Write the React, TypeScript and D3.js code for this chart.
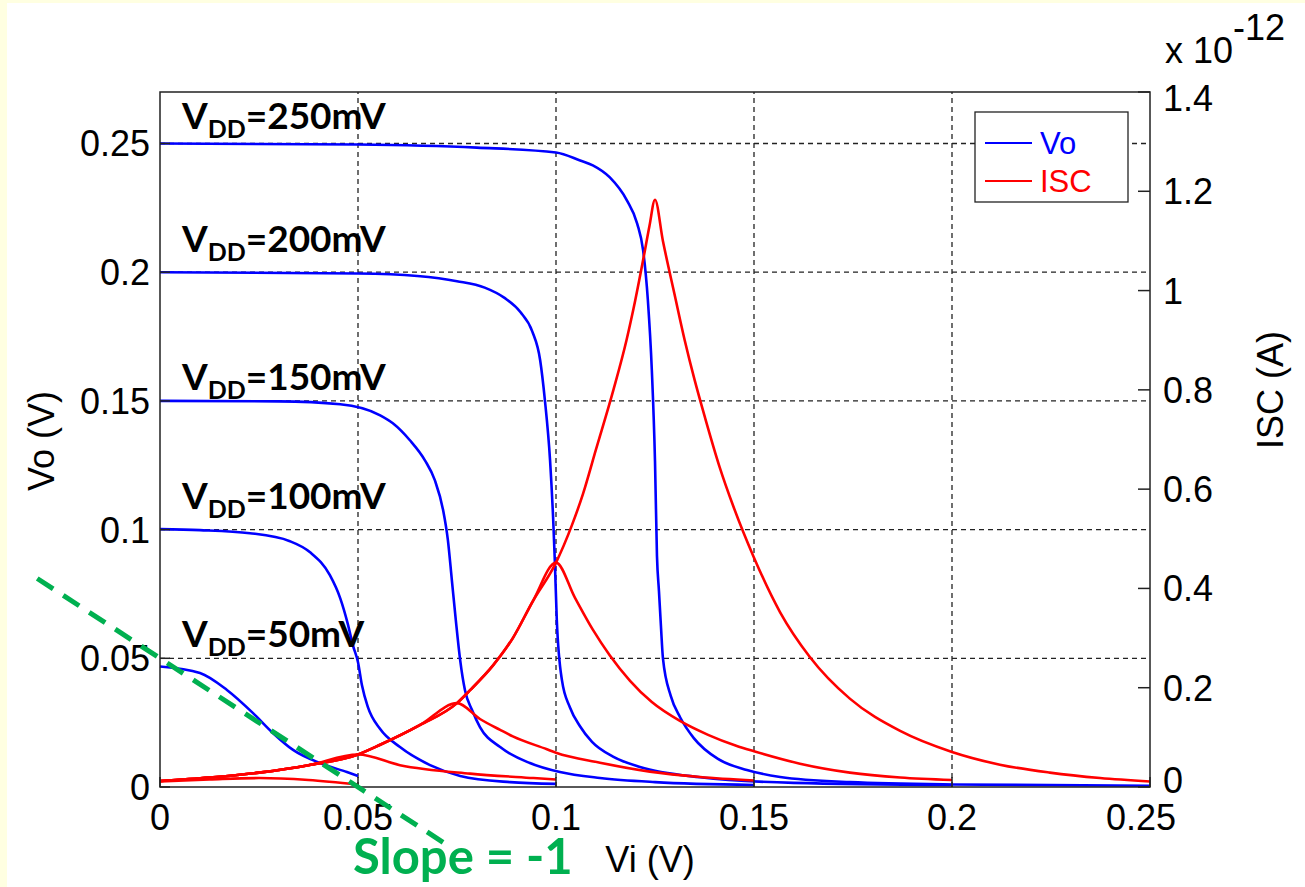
import * as d3 from "d3";
import React from "react";

type Pt = [number, number];

// Vo (V) versus Vi (V), one transfer curve per supply level
const vo50: Pt[] = [
  [0, 0.0468], [0.0101, 0.0443], [0.0169, 0.0377], [0.0235, 0.0287], [0.0285, 0.021],
  [0.0336, 0.0144], [0.0404, 0.0093], [0.0472, 0.0058], [0.05, 0.0043],
];
const vo100: Pt[] = [
  [0, 0.1002], [0.0101, 0.0998], [0.0227, 0.0986], [0.0328, 0.0955], [0.0379, 0.0912],
  [0.0429, 0.0823], [0.0455, 0.0734], [0.0475, 0.0629], [0.0487, 0.0551], [0.05, 0.0485],
  [0.051, 0.0395], [0.0525, 0.031], [0.0556, 0.0225], [0.0606, 0.0155], [0.0682, 0.0085],
  [0.0758, 0.0043], [0.0884, 0.0019], [0.1, 0.0012],
];
const vo150: Pt[] = [
  [0, 0.15], [0.03, 0.1498], [0.0455, 0.1487], [0.0556, 0.1444], [0.0588, 0.1413],
  [0.0631, 0.1347], [0.0669, 0.1269], [0.0694, 0.1192], [0.0715, 0.1075], [0.0727, 0.0959],
  [0.0737, 0.0804], [0.0747, 0.0648], [0.0758, 0.0493], [0.077, 0.0377], [0.0788, 0.0299],
  [0.0808, 0.0233], [0.0859, 0.0155], [0.0934, 0.0093], [0.101, 0.0058], [0.1111, 0.0035],
  [0.125, 0.0019], [0.15, 0.0008],
];
const vo200: Pt[] = [
  [0, 0.2], [0.05, 0.1995], [0.065, 0.1985], [0.075, 0.1965], [0.082, 0.194], [0.087, 0.19],
  [0.091, 0.1845], [0.094, 0.177], [0.096, 0.1658], [0.0972, 0.1502], [0.0985, 0.1269],
  [0.0993, 0.1036], [0.0997, 0.088], [0.1002, 0.065], [0.1015, 0.0415], [0.1035, 0.031],
  [0.1061, 0.0235], [0.1091, 0.0175], [0.1144, 0.0118], [0.1212, 0.0078], [0.1364, 0.0038],
  [0.16, 0.0016], [0.2, 0.0008],
];
const vo250: Pt[] = [
  [0, 0.25], [0.05, 0.2496], [0.08, 0.2484], [0.1, 0.2465], [0.1061, 0.2434], [0.1093, 0.2415],
  [0.1136, 0.2368], [0.1179, 0.2279], [0.1205, 0.2189], [0.122, 0.2085], [0.1232, 0.1891],
  [0.1242, 0.1619], [0.125, 0.1266], [0.1255, 0.0897], [0.126, 0.0761], [0.1265, 0.0625],
  [0.127, 0.0501], [0.129, 0.0353], [0.1313, 0.0272], [0.1348, 0.019], [0.1409, 0.0109],
  [0.1482, 0.0066], [0.1566, 0.0039], [0.1742, 0.0019], [0.2, 0.001], [0.25, 0.0005],
];

// ISC (x1e-12 A): the rising side is shared by every supply level
const iscRise: Pt[] = [
  [0, 0.012], [0.0125, 0.019], [0.025, 0.029], [0.0375, 0.044], [0.05, 0.0655],
  [0.0556, 0.085], [0.0657, 0.125], [0.075, 0.169], [0.0783, 0.195], [0.0841, 0.245],
  [0.0891, 0.3], [0.0942, 0.375], [0.1, 0.452], [0.104, 0.527], [0.1068, 0.59],
  [0.1101, 0.68], [0.1145, 0.8], [0.1178, 0.9], [0.12, 0.98], [0.1222, 1.07],
  [0.1236, 1.13], [0.125, 1.183],
];
const isc50: Pt[] = [[0, 0.011], [0.0125, 0.015], [0.025, 0.018], [0.0375, 0.014], [0.05, 0.005]];
const iscFall100: Pt[] = [[0.05, 0.0655], [0.0606, 0.044], [0.0783, 0.027], [0.0943, 0.018], [0.1, 0.015]];
const iscFall150: Pt[] = [
  [0.075, 0.169], [0.0808, 0.137], [0.0859, 0.115], [0.0891, 0.102], [0.0977, 0.076],
  [0.1, 0.069], [0.1111, 0.049], [0.1237, 0.031], [0.1364, 0.02], [0.15, 0.013],
];
const iscFall200: Pt[] = [
  [0.1, 0.452], [0.1048, 0.381], [0.1093, 0.317], [0.1136, 0.265], [0.1187, 0.214],
  [0.1242, 0.171], [0.1313, 0.133], [0.1384, 0.105], [0.1455, 0.083], [0.15, 0.072],
  [0.1616, 0.047], [0.1742, 0.029], [0.1869, 0.019], [0.2, 0.014],
];
const iscFall250: Pt[] = [
  [0.125, 1.183], [0.127, 1.1], [0.13, 0.99], [0.1325, 0.9], [0.135, 0.82], [0.1376, 0.745],
  [0.1413, 0.645], [0.1448, 0.565], [0.15, 0.462], [0.1566, 0.352], [0.1641, 0.262],
  [0.1742, 0.178], [0.1869, 0.113], [0.2, 0.0706], [0.2121, 0.045], [0.2247, 0.029],
  [0.2374, 0.018], [0.25, 0.011],
];

const vddLabels = ["50mV", "100mV", "150mV", "200mV", "250mV"];
const vddLabelLevel = [0.0543, 0.1079, 0.1541, 0.2077, 0.2558]; // Vo level of each label baseline
const slopeLine: Pt[] = [[-0.031, 0.081], [0.074, -0.024]];

const xTicks = [0, 0.05, 0.1, 0.15, 0.2, 0.25];
const voTicks = [0, 0.05, 0.1, 0.15, 0.2, 0.25];
const iscTicks = [0, 0.2, 0.4, 0.6, 0.8, 1, 1.2, 1.4];

const FONT = "'Liberation Sans', Arial, sans-serif";
const BOLD = "Lato, 'Open Sans', sans-serif";
const BLUE = "#0000ff";
const RED = "#ff0000";
const GREEN = "#00b050";

const App: React.FC = () => {
  const x = d3.scaleLinear().domain([0, 0.25]).range([160, 1150]);
  const yVo = d3.scaleLinear().domain([0, 0.27]).range([787, 92]);
  const yIsc = d3.scaleLinear().domain([0, 1.4]).range([787, 92]);

  const voLine = d3.line<Pt>().x((d) => x(d[0])).y((d) => yVo(d[1])).curve(d3.curveMonotoneX);
  const iscLine = d3.line<Pt>().x((d) => x(d[0])).y((d) => yIsc(d[1])).curve(d3.curveMonotoneX);
  const straight = d3.line<Pt>().x((d) => x(d[0])).y((d) => yVo(d[1]));

  const voCurves = [vo50, vo100, vo150, vo200, vo250];
  const iscCurves = [
    isc50,
    iscRise.filter((d) => d[0] < 0.05).concat(iscFall100),
    iscRise.filter((d) => d[0] < 0.075).concat(iscFall150),
    iscRise.filter((d) => d[0] < 0.1).concat(iscFall200),
    iscRise.filter((d) => d[0] < 0.125).concat(iscFall250),
  ];

  const [x0, x1] = x.range();
  const [yb, yt] = yVo.range();

  return (
    <svg width={1305} height={887} style={{ position: "absolute", left: 0, top: 0 }}>
      <rect width={1305} height={887} fill="#ffffe1" />
      <rect x={7} y={3} width={1298} height={884} fill="#ffffff" />

      {/* grid */}
      <g stroke="#222" strokeWidth={1.3} strokeDasharray="5,4">
        {voTicks.filter((t) => t > 0).map((t) => (
          <line key={"gy" + t} x1={x0} x2={x1} y1={yVo(t)} y2={yVo(t)} />
        ))}
        {xTicks.filter((t) => t > 0 && t < 0.25).map((t) => (
          <line key={"gx" + t} x1={x(t)} x2={x(t)} y1={yb} y2={yt} />
        ))}
      </g>

      {/* curves */}
      <g fill="none" strokeWidth={2.6} strokeLinejoin="round">
        {voCurves.map((c, i) => (
          <path key={"vo" + i} d={voLine(c) ?? ""} stroke={BLUE} />
        ))}
        {iscCurves.map((c, i) => (
          <path key={"isc" + i} d={iscLine(c) ?? ""} stroke={RED} />
        ))}
      </g>

      {/* axes box and ticks */}
      <rect x={x0} y={yt} width={x1 - x0} height={yb - yt} fill="none" stroke="#222" strokeWidth={1.5} />
      <g stroke="#222" strokeWidth={1.5}>
        {xTicks.map((t) => (
          <line key={"tx" + t} x1={x(t)} x2={x(t)} y1={yb} y2={yb - 10} />
        ))}
        {voTicks.map((t) => (
          <line key={"tv" + t} x1={x0} x2={x0 + 10} y1={yVo(t)} y2={yVo(t)} />
        ))}
        {iscTicks.map((t) => (
          <line key={"ti" + t} x1={x1} x2={x1 - 12} y1={yIsc(t)} y2={yIsc(t)} />
        ))}
      </g>

      {/* tick labels */}
      <g fontFamily={FONT} fontSize={36} fill="#000">
        {xTicks.map((t, i) => (
          <text key={"lx" + t} x={x(t) - (i === xTicks.length - 1 ? 9 : 0)} y={830} textAnchor="middle">
            {String(t)}
          </text>
        ))}
        {voTicks.map((t) => (
          <text key={"lv" + t} x={150} y={yVo(t) + 13} textAnchor="end">{String(t)}</text>
        ))}
        {iscTicks.map((t, i) => (
          <text
            key={"li" + t}
            x={1163}
            y={yIsc(t) + 13 + (i === 0 ? -7 : i === iscTicks.length - 1 ? 6 : 0)}
            textAnchor="start"
          >
            {String(t)}
          </text>
        ))}
        <text x={1165} y={63}>x 10</text>
        <text x={1233} y={40}>-12</text>
        <text x={650} y={872} textAnchor="middle">Vi (V)</text>
        <text transform="translate(54,441) rotate(-90)" textAnchor="middle">Vo (V)</text>
        <text transform="translate(1283,390) rotate(-90)" textAnchor="middle">ISC (A)</text>
      </g>

      {/* legend */}
      <g>
        <rect x={975} y={112} width={153} height={90} fill="#fff" stroke="#222" strokeWidth={1.3} />
        <line x1={985} x2={1032} y1={143} y2={143} stroke={BLUE} strokeWidth={2.2} />
        <line x1={985} x2={1032} y1={181} y2={181} stroke={RED} strokeWidth={2.2} />
        <text x={1040} y={154} fontFamily={FONT} fontSize={31} fill={BLUE}>Vo</text>
        <text x={1040} y={192} fontFamily={FONT} fontSize={31} fill={RED}>ISC</text>
      </g>

      {/* supply annotations */}
      <g fontFamily={BOLD} fontWeight={700} fill="#000">
        {vddLabels.map((s, i) => (
          <text key={s} x={182} y={yVo(vddLabelLevel[i])} fontSize={37}>
            V
            <tspan dy={9} fontSize={25}>DD</tspan>
            <tspan dy={-9}>={s}</tspan>
          </text>
        ))}
      </g>

      {/* slope annotation */}
      <path
        d={straight(slopeLine) ?? ""}
        fill="none"
        stroke={GREEN}
        strokeWidth={5}
        strokeDasharray="19,12"
      />
      <text x={353} y={874} fontFamily={BOLD} fontWeight={700} fontSize={49} fill={GREEN}>
        Slope = -1
      </text>
    </svg>
  );
};

export default App;
